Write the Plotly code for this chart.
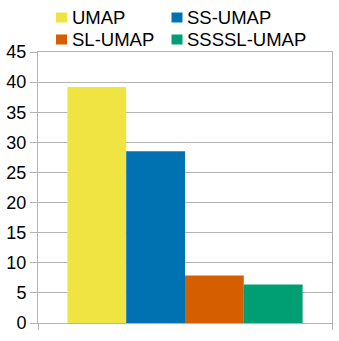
import plotly.graph_objects as go

methods = ["UMAP", "SS-UMAP", "SL-UMAP", "SSSSL-UMAP"]
values = [39.2, 28.5, 7.9, 6.4]
colors = ["#F0E442", "#0072B2", "#D55E00", "#009E73"]
y_ticks = [0, 5, 10, 15, 20, 25, 30, 35, 40, 45]

W, H = 339, 341
ML, MR, MT, MB = 38, 7, 52, 18
PW, PH = W - ML - MR, H - MT - MB

def px_x(px):
    return (px - ML) / PW

def px_y(py):
    return (H - MB - py) / PH

fig = go.Figure()
for m, v, c in zip(methods, values, colors):
    fig.add_trace(go.Bar(x=[0], y=[v], name=m, marker=dict(color=c, line=dict(width=0))))

# legend drawn as a 2x2 grid above the plot
col_x = [56, 171.5]
row_y = [17.5, 39.5]
shapes, annotations = [], []
for i, (m, c) in enumerate(zip(methods, colors)):
    cx = col_x[i % 2]
    cy = row_y[i // 2]
    shapes.append(dict(type="rect", xref="paper", yref="paper",
                       x0=px_x(cx), x1=px_x(cx + 11), y0=px_y(cy - 5), y1=px_y(cy + 5),
                       fillcolor=c, line=dict(width=0)))
    annotations.append(dict(text=m, xref="paper", yref="paper", x=px_x(cx + 15), y=px_y(cy),
                            xanchor="left", yanchor="middle", showarrow=False, borderpad=0,
                            font=dict(size=18.5, color="black")))

grid = "#b3b3b3"
fig.update_layout(
    width=W, height=H,
    barmode="group", bargap=0.2, bargroupgap=0,
    margin=dict(l=ML, r=MR, t=MT, b=MB, pad=0, autoexpand=False),
    paper_bgcolor="white", plot_bgcolor="white",
    font=dict(family="Liberation Sans, Arial, sans-serif", size=17, color="black"),
    showlegend=False,
    shapes=shapes, annotations=annotations,
)
fig.update_xaxes(range=[-0.5, 0.5], tickvals=[-0.5, 0.5], showticklabels=False, automargin=False,
                 ticks="outside", ticklen=6, tickcolor=grid, showgrid=False,
                 showline=True, linecolor=grid, linewidth=1, mirror=True, zeroline=False)
fig.update_yaxes(range=[0, 45], tickvals=y_ticks, ticks="outside", ticklen=7, tickcolor=grid,
                 automargin=False,
                 showgrid=True, gridcolor=grid, gridwidth=1, showline=True, linecolor=grid,
                 linewidth=1, mirror=True, zeroline=False, tickfont=dict(size=18))

fig.write_html("out.html", config={"displayModeBar": False, "staticPlot": True},
               post_script="document.body.style.margin='0';document.body.style.overflow='hidden';")
